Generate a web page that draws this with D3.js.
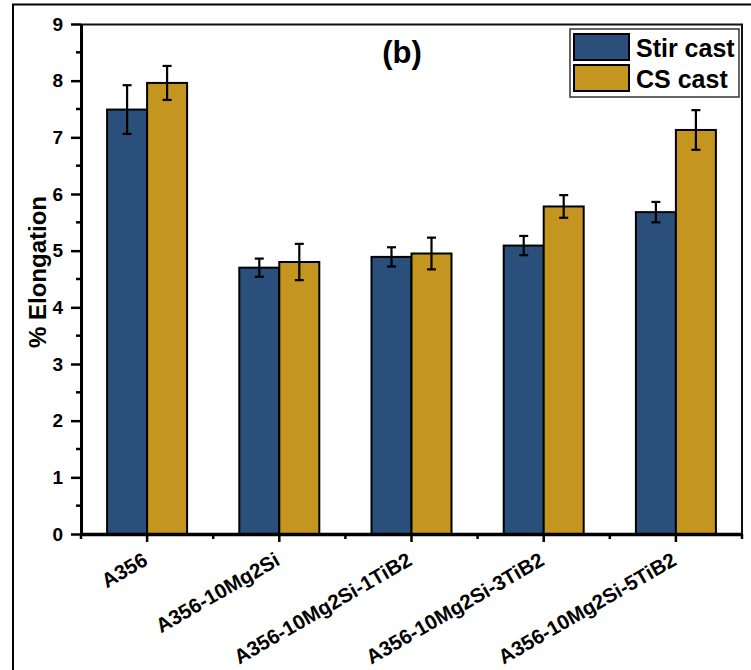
<!DOCTYPE html>
<html>
<head>
<meta charset="utf-8">
<script src="https://cdn.jsdelivr.net/npm/d3@7"></script>
<style>
  body { margin: 0; background: #fff; }
  svg text { font-family: Arial, "Liberation Sans", sans-serif; font-weight: bold; }
</style>
</head>
<body>
<div class="container"></div>
<script>
// data
const categories = ['A356', 'A356-10Mg2Si', 'A356-10Mg2Si-1TiB2', 'A356-10Mg2Si-3TiB2', 'A356-10Mg2Si-5TiB2'];
const series = ['Stir cast', 'CS cast'];
const stirCast = [7.49, 4.70, 4.89, 5.09, 5.68];
const stirErr = [0.43, 0.16, 0.17, 0.17, 0.18];
const csCast = [7.96, 4.80, 4.95, 5.78, 7.13];
const csErr = [0.30, 0.32, 0.28, 0.20, 0.35];
const yTicks = [0, 1, 2, 3, 4, 5, 6, 7, 8, 9];

const colors = ['#2b4f7b', '#c4961f'];

// svg dimensions
const width = 751;
const height = 670;
const plotLeft = 81, plotRight = 742, plotTop = 24, plotBottom = 534;

const svg = d3.select('.container')
  .append('svg')
  .attr('width', width)
  .attr('height', height);

// outer frame (only left + top visible)
svg.append('rect')
  .attr('x', 13).attr('y', 4.5)
  .attr('width', 800).attr('height', 800)
  .attr('fill', 'none')
  .attr('stroke', '#000')
  .attr('stroke-width', 2);

const x0 = d3.scaleBand().domain(categories).range([plotLeft, plotRight]);
const bw = x0.bandwidth();
const x1 = d3.scaleBand().domain(series).range([bw / 2 - 40, bw / 2 + 40]);
const y = d3.scaleLinear().domain([0, 9]).range([plotBottom, plotTop]);

// plot frame top + right
svg.append('path')
  .attr('d', `M${plotLeft},${plotTop + 0.5}H${plotRight}V${plotBottom}`)
  .attr('fill', 'none')
  .attr('stroke', '#111')
  .attr('stroke-width', 2);

const rows = categories.map((c, i) => ({
  cat: c,
  vals: [
    { s: series[0], v: stirCast[i], e: stirErr[i], k: 0 },
    { s: series[1], v: csCast[i], e: csErr[i], k: 1 }
  ]
}));

const groups = svg.selectAll('g.grp')
  .data(rows)
  .enter()
  .append('g')
  .attr('class', 'grp')
  .attr('transform', d => `translate(${x0(d.cat)},0)`);

groups.selectAll('rect')
  .data(d => d.vals)
  .enter()
  .append('rect')
  .attr('x', d => x1(d.s))
  .attr('y', d => y(d.v))
  .attr('width', x1.bandwidth())
  .attr('height', d => y(0) - y(d.v))
  .attr('fill', d => colors[d.k])
  .attr('stroke', '#000')
  .attr('stroke-width', 2);

// error bars
const eb = groups.selectAll('g.err')
  .data(d => d.vals)
  .enter()
  .append('g')
  .attr('class', 'err')
  .attr('stroke', '#000')
  .attr('stroke-width', 2.2);
eb.append('line')
  .attr('x1', d => x1(d.s) + x1.bandwidth() / 2)
  .attr('x2', d => x1(d.s) + x1.bandwidth() / 2)
  .attr('y1', d => y(d.v + d.e))
  .attr('y2', d => y(d.v - d.e));
[1, -1].forEach(sgn => {
  eb.append('line')
    .attr('x1', d => x1(d.s) + x1.bandwidth() / 2 - 4.5)
    .attr('x2', d => x1(d.s) + x1.bandwidth() / 2 + 4.5)
    .attr('y1', d => y(d.v + sgn * d.e))
    .attr('y2', d => y(d.v + sgn * d.e));
});

// y axis
const yAxis = svg.append('g')
  .attr('transform', `translate(${plotLeft},0)`)
  .call(d3.axisLeft(y).tickValues(yTicks).tickSize(10).tickPadding(8).tickSizeOuter(0));
yAxis.append('g')
  .selectAll('line')
  .data(d3.range(0.5, 9, 1))
  .enter()
  .append('line')
  .attr('x1', -5).attr('x2', 0)
  .attr('y1', d => y(d)).attr('y2', d => y(d))
  .attr('stroke', '#000').attr('stroke-width', 2.5);
yAxis.selectAll('.tick line').attr('stroke-width', 2.5);
yAxis.select('.domain').attr('stroke-width', 3);
yAxis.selectAll('.tick text').attr('font-size', 19).attr('fill', '#000');

// x axis
const xAxis = svg.append('g')
  .attr('transform', `translate(0,${plotBottom})`)
  .call(d3.axisBottom(x0).tickSize(8).tickSizeOuter(0).tickFormat(''));
xAxis.select('.domain').attr('stroke-width', 3.5);
xAxis.selectAll('.tick line').attr('stroke-width', 2.5);
xAxis.append('g')
  .selectAll('line')
  .data(categories.map(c => x0(c)).concat([plotRight]))
  .enter()
  .append('line')
  .attr('x1', d => d).attr('x2', d => d)
  .attr('y1', 0).attr('y2', 5)
  .attr('stroke', '#000').attr('stroke-width', 2.5);

svg.append('g')
  .selectAll('text')
  .data(categories)
  .enter()
  .append('text')
  .attr('transform', d => `translate(${x0(d) + bw / 2 + 2},${plotBottom + 30}) rotate(-30)`)
  .attr('text-anchor', 'end')
  .attr('font-size', 20.5)
  .attr('fill', '#000')
  .text(d => d);

// y label
svg.append('text')
  .attr('transform', `translate(46,272) rotate(-90)`)
  .attr('text-anchor', 'middle')
  .attr('font-size', 24)
  .text('% Elongation');

// title
svg.append('text')
  .attr('x', 402).attr('y', 63)
  .attr('text-anchor', 'middle')
  .attr('font-size', 31)
  .text('(b)');

// legend
const legend = svg.append('g');
legend.append('rect')
  .attr('x', 570).attr('y', 29)
  .attr('width', 169).attr('height', 68)
  .attr('fill', '#fff')
  .attr('stroke', '#333')
  .attr('stroke-width', 1.5);
series.forEach((s, i) => {
  legend.append('rect')
    .attr('x', 574).attr('y', 34 + i * 31)
    .attr('width', 55).attr('height', 26)
    .attr('fill', colors[i])
    .attr('stroke', '#000')
    .attr('stroke-width', 2);
  legend.append('text')
    .attr('x', 636).attr('y', 57 + i * 31)
    .attr('font-size', 25)
    .text(s);
});
</script>
</body>
</html>
